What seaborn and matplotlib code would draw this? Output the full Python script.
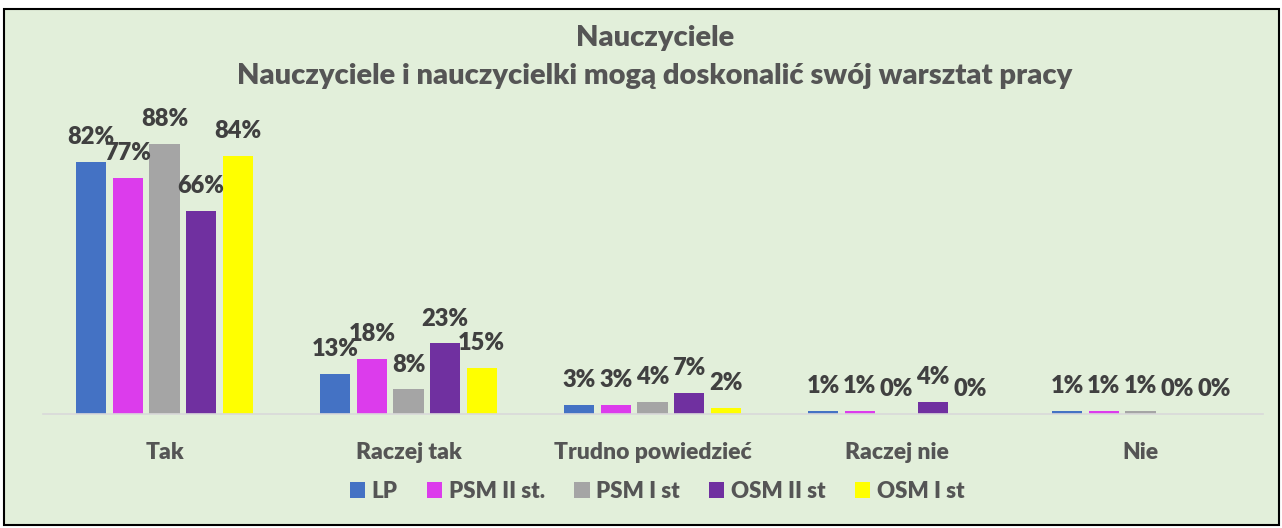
import matplotlib
matplotlib.use('Agg')

import pandas as pd
import matplotlib.pyplot as plt
from matplotlib.patches import Rectangle
import seaborn as sns

# Data
kategorie = ['Tak', 'Raczej tak', 'Trudno powiedzieć', 'Raczej nie', 'Nie']
grupy = ['LP', 'PSM II st.', 'PSM I st', 'OSM II st', 'OSM I st']
lp = [82, 13, 3, 1, 1]
psm_ii = [77, 18, 3, 1, 1]
psm_i = [88, 8, 4, 0, 1]
osm_ii = [66, 23, 7, 4, 0]
osm_i = [84, 15, 2, 0, 0]
kolory = ['#4472C4', '#DC3CEC', '#A5A5A5', '#7030A0', '#FFFF00']

serie = [lp, psm_ii, psm_i, osm_ii, osm_i]
rows = []
for g, vals in zip(grupy, serie):
    for k, v in zip(kategorie, vals):
        rows.append({'kategoria': k, 'grupa': g, 'wartosc': v})
df = pd.DataFrame(rows)

sns.set_theme(style='white')
plt.rcParams['font.family'] = ['Lato', 'DejaVu Sans']
plt.rcParams['font.weight'] = 'bold'

bg = '#E2EFDA'
txt = '#555555'

fig = plt.figure(figsize=(12.82, 5.28), dpi=100)
fig.patch.set_facecolor('white')
# chart area with border
fig.patches.append(Rectangle((4 / 1282, 3 / 528), 1275 / 1282, 516 / 528,
                             transform=fig.transFigure, facecolor=bg,
                             edgecolor='black', linewidth=1.5, zorder=-10))

ax = fig.add_axes([42.5 / 1282, 114 / 528, 1220 / 1282, 307 / 528])
ax.set_facecolor('none')

sns.barplot(data=df, x='kategoria', y='wartosc', hue='grupa', palette=kolory,
            saturation=1, width=0.75, gap=0.18, linewidth=0, ax=ax,
            legend=True)

for cont in ax.containers:
    ax.bar_label(cont, labels=[f'{v:.0f}%' for v in cont.datavalues],
                 padding=10, fontsize=17, fontweight='heavy', color='#404040')

ax.set_ylim(0, 100)
ax.set_xlim(-0.5, 4.5)
ax.set_yticks([])
ax.set_xlabel('')
ax.set_ylabel('')
for s in ['top', 'right', 'left']:
    ax.spines[s].set_visible(False)
ax.spines['bottom'].set_color('#D9D9D9')
ax.spines['bottom'].set_linewidth(1.2)
ax.tick_params(axis='x', length=0, pad=20)
ax.set_xticks(range(len(kategorie)), kategorie, fontsize=16.5,
              fontweight='heavy', color=txt)

ax.legend(loc='center', bbox_to_anchor=(657 / 1282, 37 / 528),
          bbox_transform=fig.transFigure, ncol=5, frameon=False,
          handlelength=0.7, handleheight=0.7, handletextpad=0.3,
          columnspacing=1.3, prop={'size': 16, 'weight': 'heavy'},
          labelcolor=txt)

fig.text(655 / 1282, 1 - 38 / 528, 'Nauczyciele', ha='center', va='center',
         fontsize=21, fontweight='heavy', color=txt)
fig.text(655 / 1282, 1 - 76 / 528,
         'Nauczyciele i nauczycielki mogą doskonalić swój warsztat pracy',
         ha='center', va='center', fontsize=21, fontweight='heavy', color=txt)

fig.savefig('out.png', dpi=100)
